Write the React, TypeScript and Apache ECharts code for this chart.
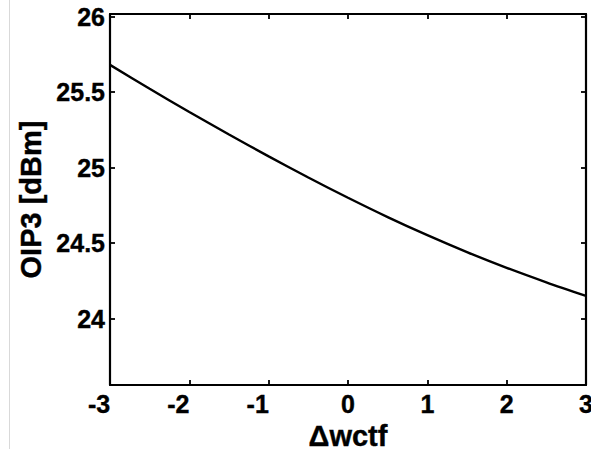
import React, { useEffect, useRef } from "react";
import * as echarts from "echarts";

// Δwctf sweep and the resulting OIP3 (dBm)
const wctf = [-3, -2.5, -2, -1.5, -1, -0.5, 0, 0.5, 1, 1.5, 2, 2.5, 3];
const oip3 = [25.68, 25.522, 25.368, 25.219, 25.074, 24.934, 24.8, 24.672, 24.552, 24.44, 24.336, 24.24, 24.15];
const yTicks = [24, 24.5, 25, 25.5, 26];
const xTicks = [-3, -2, -1, 0, 1, 2, 3];

const FONT = "Arial, 'Liberation Sans', Helvetica, sans-serif";
const Y_MIN = 23.56;
const Y_MAX = 26.017;

export default function App() {
  const ref = useRef<HTMLDivElement>(null);

  useEffect(() => {
    document.body.style.margin = "0";
    if (!ref.current) return;
    const chart = echarts.init(ref.current, undefined, { renderer: "svg" });

    const frameLine = { show: true, onZero: false, lineStyle: { color: "#000", width: 2.2 } };
    const innerTick = { show: true, inside: true, length: 5, lineStyle: { color: "#000", width: 1.8 } };
    const labelStyle = {
      color: "#000",
      fontFamily: FONT,
      fontWeight: "bold",
      fontSize: 25,
      textBorderColor: "#000",
      textBorderWidth: 0.4,
    };
    const nameStyle = {
      color: "#000",
      fontFamily: FONT,
      fontWeight: "bold",
      fontSize: 29,
      textBorderColor: "#000",
      textBorderWidth: 0.4,
    };

    chart.setOption({
      animation: false,
      backgroundColor: "#fff",
      grid: {
        left: 110,
        right: 5,
        top: 14,
        bottom: 64,
        containLabel: false,
        outerBoundsMode: "none",
      },
      xAxis: [
        {
          type: "value",
          position: "bottom",
          min: -3,
          max: 3,
          interval: 1,
          axisLine: frameLine,
          axisTick: innerTick,
          splitLine: { show: false },
          axisLabel: {
            show: true,
            margin: 6,
            ...labelStyle,
            customValues: xTicks,
            // negative labels end at their tick, positive ones are centred on it
            formatter: (v: number) => (v < 0 ? `{neg|${v}}` : `{pos|${v}}`),
            rich: {
              neg: { ...labelStyle, padding: [0, 22, 0, 0] },
              pos: { ...labelStyle },
            },
          },
          name: "Δwctf",
          nameLocation: "middle",
          nameGap: 31,
          nameTextStyle: nameStyle,
        },
        {
          type: "value",
          position: "top",
          min: -3,
          max: 3,
          interval: 1,
          axisLine: frameLine,
          axisTick: innerTick,
          axisLabel: { show: false },
          splitLine: { show: false },
        },
      ],
      yAxis: [
        {
          type: "value",
          position: "left",
          min: Y_MIN,
          max: Y_MAX,
          axisLine: frameLine,
          axisTick: { ...innerTick, customValues: yTicks },
          splitLine: { show: false },
          axisLabel: {
            show: true,
            margin: 5,
            ...labelStyle,
            customValues: yTicks,
            formatter: (v: number) => String(v),
          },
          name: "OIP3 [dBm]",
          nameLocation: "middle",
          nameGap: 64,
          nameTextStyle: nameStyle,
        },
        {
          type: "value",
          position: "right",
          min: Y_MIN,
          max: Y_MAX,
          axisLine: frameLine,
          axisTick: { ...innerTick, customValues: yTicks },
          axisLabel: { show: false },
          splitLine: { show: false },
        },
      ],
      graphic: [
        {
          type: "line",
          shape: { x1: 9.5, y1: 0, x2: 9.5, y2: 449 },
          style: { stroke: "#d9d9d9", lineWidth: 1 },
          silent: true,
        },
      ],
      series: [
        {
          type: "line",
          data: wctf.map((x, i) => [x, oip3[i]]),
          showSymbol: false,
          smooth: 0.3,
          lineStyle: { color: "#000", width: 2.4 },
          xAxisIndex: 0,
          yAxisIndex: 0,
        },
      ],
    });

    return () => chart.dispose();
  }, []);

  return <div ref={ref} style={{ width: 591, height: 449 }} />;
}
